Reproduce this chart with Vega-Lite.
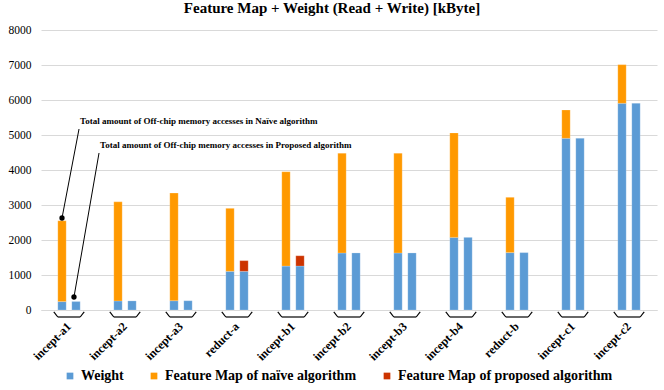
{
  "$schema": "https://vega.github.io/schema/vega-lite/v6.json",
  "width": 616,
  "height": 280,
  "autosize": {"type": "none"},
  "padding": {"left": 41, "top": 30, "right": 7, "bottom": 80},
  "background": "white",
  "title": {
    "text": "Feature Map + Weight (Read + Write) [kByte]",
    "font": "Liberation Serif",
    "fontSize": 15,
    "fontWeight": "bold",
    "color": "#000000",
    "anchor": "middle",
    "frame": "group",
    "dx": -17,
    "offset": 8
  },
  "config": {
    "view": {"stroke": null},
    "font": "Liberation Serif",
    "axis": {"labelFont": "Liberation Serif"},
    "axisY": {
      "values": [0, 1000, 2000, 3000, 4000, 5000, 6000, 7000, 8000],
      "format": "d", "labelOverlap": false,
      "labelFont": "Liberation Serif", "labelFontSize": 11.5, "labelColor": "#000000",
      "labelPadding": 10, "ticks": false, "domain": false,
      "gridColor": "#d9d9d9", "gridWidth": 1, "title": null
    }
  },
  "datasets": {
    "bars": [
      {"cat": "incept-a1", "alg": "Naive", "part": "Weight", "value": 240},
      {"cat": "incept-a1", "alg": "Naive", "part": "Feature Map of naïve algorithm", "value": 2310},
      {"cat": "incept-a1", "alg": "Proposed", "part": "Weight", "value": 240},
      {"cat": "incept-a2", "alg": "Naive", "part": "Weight", "value": 260},
      {"cat": "incept-a2", "alg": "Naive", "part": "Feature Map of naïve algorithm", "value": 2830},
      {"cat": "incept-a2", "alg": "Proposed", "part": "Weight", "value": 260},
      {"cat": "incept-a3", "alg": "Naive", "part": "Weight", "value": 265},
      {"cat": "incept-a3", "alg": "Naive", "part": "Feature Map of naïve algorithm", "value": 3075},
      {"cat": "incept-a3", "alg": "Proposed", "part": "Weight", "value": 265},
      {"cat": "reduct-a", "alg": "Naive", "part": "Weight", "value": 1105},
      {"cat": "reduct-a", "alg": "Naive", "part": "Feature Map of naïve algorithm", "value": 1800},
      {"cat": "reduct-a", "alg": "Proposed", "part": "Weight", "value": 1105},
      {"cat": "reduct-a", "alg": "Proposed", "part": "Feature Map of proposed algorithm", "value": 305},
      {"cat": "incept-b1", "alg": "Naive", "part": "Weight", "value": 1255},
      {"cat": "incept-b1", "alg": "Naive", "part": "Feature Map of naïve algorithm", "value": 2695},
      {"cat": "incept-b1", "alg": "Proposed", "part": "Weight", "value": 1255},
      {"cat": "incept-b1", "alg": "Proposed", "part": "Feature Map of proposed algorithm", "value": 295},
      {"cat": "incept-b2", "alg": "Naive", "part": "Weight", "value": 1630},
      {"cat": "incept-b2", "alg": "Naive", "part": "Feature Map of naïve algorithm", "value": 2850},
      {"cat": "incept-b2", "alg": "Proposed", "part": "Weight", "value": 1630},
      {"cat": "incept-b3", "alg": "Naive", "part": "Weight", "value": 1630},
      {"cat": "incept-b3", "alg": "Naive", "part": "Feature Map of naïve algorithm", "value": 2850},
      {"cat": "incept-b3", "alg": "Proposed", "part": "Weight", "value": 1630},
      {"cat": "incept-b4", "alg": "Naive", "part": "Weight", "value": 2075},
      {"cat": "incept-b4", "alg": "Naive", "part": "Feature Map of naïve algorithm", "value": 2985},
      {"cat": "incept-b4", "alg": "Proposed", "part": "Weight", "value": 2075},
      {"cat": "reduct-b", "alg": "Naive", "part": "Weight", "value": 1640},
      {"cat": "reduct-b", "alg": "Naive", "part": "Feature Map of naïve algorithm", "value": 1580},
      {"cat": "reduct-b", "alg": "Proposed", "part": "Weight", "value": 1640},
      {"cat": "incept-c1", "alg": "Naive", "part": "Weight", "value": 4905},
      {"cat": "incept-c1", "alg": "Naive", "part": "Feature Map of naïve algorithm", "value": 810},
      {"cat": "incept-c1", "alg": "Proposed", "part": "Weight", "value": 4905},
      {"cat": "incept-c2", "alg": "Naive", "part": "Weight", "value": 5905},
      {"cat": "incept-c2", "alg": "Naive", "part": "Feature Map of naïve algorithm", "value": 1105},
      {"cat": "incept-c2", "alg": "Proposed", "part": "Weight", "value": 5905}
    ],
    "notes": [
      {"text": "Total amount of Off-chip memory accesses in Naïve algorithm", "tx": 0.196, "ty": 5410, "x1": 0.179, "y1": 5171, "x2": -0.125, "y2": 2629},
      {"text": "Total amount of Off-chip memory accesses in Proposed algorithm", "tx": 0.554, "ty": 4723, "x1": 0.536, "y1": 4486, "x2": 0.089, "y2": 371}
    ]
  },
  "layer": [
    {
      "data": {"name": "bars"},
      "encoding": {
        "x": {
          "field": "cat", "type": "nominal", "sort": null, "title": null,
          "scale": {"paddingInner": 0.6, "paddingOuter": 0.3},
          "axis": {
            "labelAngle": -45, "labelAlign": "right", "labelBaseline": "middle",
            "labelFont": "Liberation Serif", "labelFontSize": 12, "labelFontWeight": "bold",
            "labelColor": "#000000", "labelPadding": 14, "labelDx": 6, "ticks": false,
            "domainColor": "#d9d9d9", "domainWidth": 1
          }
        }
      },
      "layer": [
        {
          "mark": {"type": "bar", "stroke": "#ffffff", "strokeOpacity": 0.35, "strokeWidth": 0.6},
          "encoding": {
            "xOffset": {"field": "alg", "type": "nominal", "scale": {"paddingInner": 0.4, "paddingOuter": 0}},
            "y": {
              "field": "value", "type": "quantitative", "stack": "zero", "title": null,
              "scale": {"domain": [0, 8000], "nice": false}
            },
            "color": {
              "field": "part", "type": "nominal",
              "sort": ["Weight", "Feature Map of naïve algorithm", "Feature Map of proposed algorithm"],
              "scale": {
                "domain": ["Weight", "Feature Map of naïve algorithm", "Feature Map of proposed algorithm"],
                "range": ["#5B9BD5", "#FF9900", "#CC3300"]
              },
              "legend": {
                "title": null, "orient": "none", "direction": "horizontal",
                "legendX": 22, "legendY": 339,
                "symbolType": "square", "symbolSize": 45, "symbolStrokeWidth": 0,
                "labelFont": "Liberation Serif", "labelFontSize": 14, "labelFontWeight": "bold",
                "labelColor": "#000000", "labelOffset": 4, "columnPadding": 23, "labelLimit": 400
              }
            },
            "order": {"field": "part", "sort": "descending"}
          }
        },
        {
          "transform": [{"filter": "datum.alg === 'Naive' && datum.part === 'Weight'"}],
          "mark": {"type": "rule", "color": "#000000", "strokeWidth": 1.2},
          "encoding": {
            "x": {"field": "cat", "type": "nominal", "sort": null, "bandPosition": 0},
            "x2": {"field": "cat", "bandPosition": 1},
            "y": {"datum": -200}
          }
        },
        {
          "transform": [{"filter": "datum.alg === 'Naive' && datum.part === 'Weight'"}],
          "mark": {"type": "rule", "color": "#000000", "strokeWidth": 1.2, "x2Offset": -4},
          "encoding": {
            "x": {"field": "cat", "type": "nominal", "sort": null, "bandPosition": 0},
            "x2": {"field": "cat", "bandPosition": 0},
            "y": {"datum": -200},
            "y2": {"datum": -57}
          }
        },
        {
          "transform": [{"filter": "datum.alg === 'Naive' && datum.part === 'Weight'"}],
          "mark": {"type": "rule", "color": "#000000", "strokeWidth": 1.2, "x2Offset": 4},
          "encoding": {
            "x": {"field": "cat", "type": "nominal", "sort": null, "bandPosition": 1},
            "x2": {"field": "cat", "bandPosition": 1},
            "y": {"datum": -200},
            "y2": {"datum": -57}
          }
        }
      ]
    },
    {
      "data": {"name": "notes"},
      "layer": [
        {
          "mark": {"type": "rule", "color": "#000000", "strokeWidth": 1},
          "encoding": {
            "x": {"field": "x1", "type": "quantitative", "scale": {"domain": [-0.5, 10.5], "nice": false, "zero": false}, "axis": null},
            "x2": {"field": "x2"},
            "y": {"field": "y1", "type": "quantitative"},
            "y2": {"field": "y2"}
          }
        },
        {
          "mark": {"type": "point", "filled": true, "color": "#000000", "opacity": 1, "size": 28},
          "encoding": {
            "x": {"field": "x2", "type": "quantitative", "scale": {"domain": [-0.5, 10.5], "nice": false, "zero": false}, "axis": null},
            "y": {"field": "y2", "type": "quantitative"}
          }
        },
        {
          "mark": {"type": "text", "align": "left", "baseline": "middle", "font": "Liberation Serif", "fontSize": 9, "fontWeight": "bold", "color": "#000000"},
          "encoding": {
            "x": {"field": "tx", "type": "quantitative", "scale": {"domain": [-0.5, 10.5], "nice": false, "zero": false}, "axis": null},
            "y": {"field": "ty", "type": "quantitative"},
            "text": {"field": "text"}
          }
        }
      ]
    }
  ],
  "resolve": {"scale": {"x": "independent"}}
}
